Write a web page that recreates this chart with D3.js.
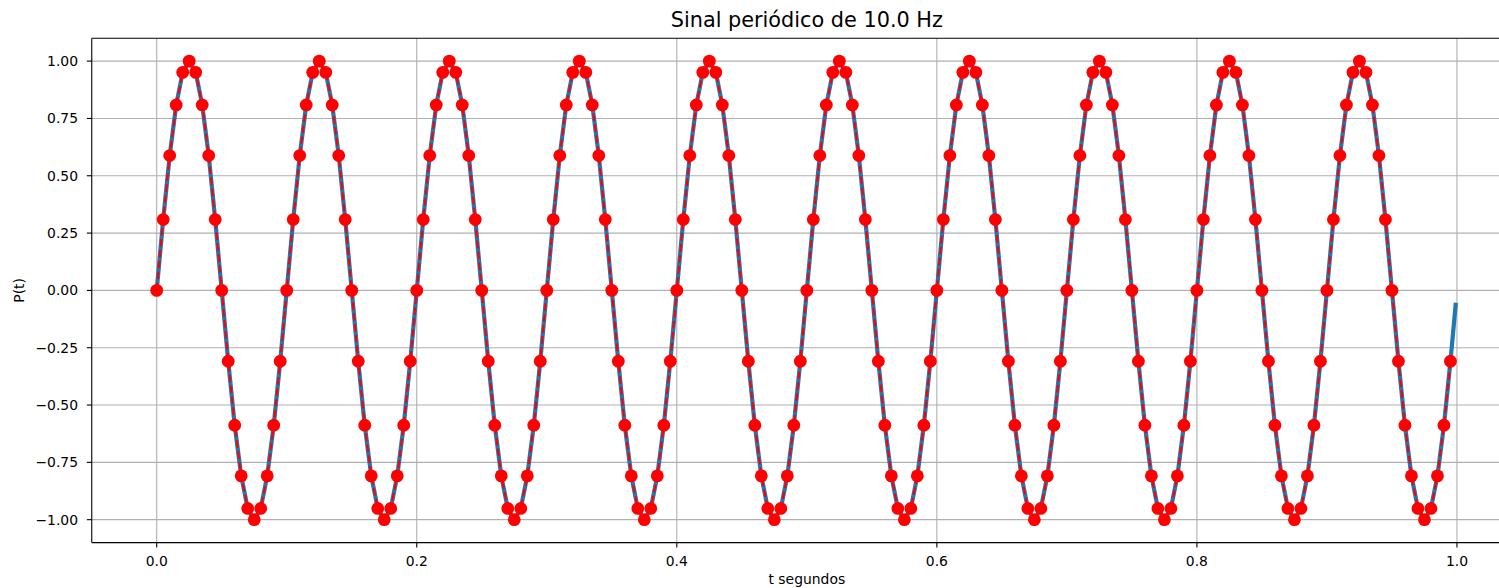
<!DOCTYPE html>
<html>
<head>
<meta charset="utf-8">
<script src="https://cdn.jsdelivr.net/npm/d3@7"></script>
<style>
  html, body { margin: 0; padding: 0; background: #fff; }
  svg { display: block; font-family: "DejaVu Sans", sans-serif; }
</style>
</head>
<body>
<svg id="chart" width="1499" height="588"></svg>
<script>
// ---- data ----
const titleText = "Sinal periódico de 10.0 Hz";
const xLabelText = "t segundos";
const yLabelText = "P(t)";
const sampleStep = 0.005;           // spacing of the red samples (s)
const sampleValues = [
  0, 0.309, 0.588, 0.809, 0.951, 1, 0.951, 0.809, 0.588, 0.309, 0, -0.309, -0.588, -0.809, -0.951, -1, -0.951, -0.809, -0.588, -0.309,
  0, 0.309, 0.588, 0.809, 0.951, 1, 0.951, 0.809, 0.588, 0.309, 0, -0.309, -0.588, -0.809, -0.951, -1, -0.951, -0.809, -0.588, -0.309,
  0, 0.309, 0.588, 0.809, 0.951, 1, 0.951, 0.809, 0.588, 0.309, 0, -0.309, -0.588, -0.809, -0.951, -1, -0.951, -0.809, -0.588, -0.309,
  0, 0.309, 0.588, 0.809, 0.951, 1, 0.951, 0.809, 0.588, 0.309, 0, -0.309, -0.588, -0.809, -0.951, -1, -0.951, -0.809, -0.588, -0.309,
  0, 0.309, 0.588, 0.809, 0.951, 1, 0.951, 0.809, 0.588, 0.309, 0, -0.309, -0.588, -0.809, -0.951, -1, -0.951, -0.809, -0.588, -0.309,
  0, 0.309, 0.588, 0.809, 0.951, 1, 0.951, 0.809, 0.588, 0.309, 0, -0.309, -0.588, -0.809, -0.951, -1, -0.951, -0.809, -0.588, -0.309,
  0, 0.309, 0.588, 0.809, 0.951, 1, 0.951, 0.809, 0.588, 0.309, 0, -0.309, -0.588, -0.809, -0.951, -1, -0.951, -0.809, -0.588, -0.309,
  0, 0.309, 0.588, 0.809, 0.951, 1, 0.951, 0.809, 0.588, 0.309, 0, -0.309, -0.588, -0.809, -0.951, -1, -0.951, -0.809, -0.588, -0.309,
  0, 0.309, 0.588, 0.809, 0.951, 1, 0.951, 0.809, 0.588, 0.309, 0, -0.309, -0.588, -0.809, -0.951, -1, -0.951, -0.809, -0.588, -0.309,
  0, 0.309, 0.588, 0.809, 0.951, 1, 0.951, 0.809, 0.588, 0.309, 0, -0.309, -0.588, -0.809, -0.951, -1, -0.951, -0.809, -0.588, -0.309
];
const lineEndT = [0.999];           // blue continuous line runs a bit past the last sample
const lineEndV = [-0.063];
const xTickValues = [0.0, 0.2, 0.4, 0.6, 0.8, 1.0];
const xTickLabels = ["0.0", "0.2", "0.4", "0.6", "0.8", "1.0"];
const yTickValues = [-1.0, -0.75, -0.5, -0.25, 0.0, 0.25, 0.5, 0.75, 1.0];
const yTickLabels = ["\u22121.00", "\u22120.75", "\u22120.50", "\u22120.25", "0.00", "0.25", "0.50", "0.75", "1.00"];
const xDomain = [-0.04995, 1.04895];
const yDomain = [-1.1, 1.1];

// ---- build ----
const samples = sampleValues.map((v, i) => ({ t: i * sampleStep, v }));
const linePts = samples.concat(lineEndT.map((t, i) => ({ t, v: lineEndV[i] })));

const svg = d3.select("#chart");
const pLeft = 91.75, pRight = 1520.6, pTop = 38.2, pBottom = 542.6;
const x = d3.scaleLinear().domain(xDomain).range([pLeft, pRight]);
const y = d3.scaleLinear().domain(yDomain).range([pBottom, pTop]);

const FS = 13.9;
const gridColor = "#b0b0b0";

// grid
const grid = svg.append("g");
grid.selectAll("line.gx").data(xTickValues).enter().append("line")
  .attr("x1", d => x(d)).attr("x2", d => x(d))
  .attr("y1", pTop).attr("y2", pBottom)
  .attr("stroke", gridColor).attr("stroke-width", 1.1);
grid.selectAll("line.gy").data(yTickValues).enter().append("line")
  .attr("x1", pLeft).attr("x2", pRight)
  .attr("y1", d => y(d)).attr("y2", d => y(d))
  .attr("stroke", gridColor).attr("stroke-width", 1.1);

// clip
svg.append("clipPath").attr("id", "clip").append("rect")
  .attr("x", pLeft).attr("y", pTop).attr("width", pRight - pLeft).attr("height", pBottom - pTop);

const plot = svg.append("g").attr("clip-path", "url(#clip)");
const lineGen = d3.line().x(d => x(d.t)).y(d => y(d.v));

plot.append("path").datum(linePts)
  .attr("d", lineGen)
  .attr("fill", "none")
  .attr("stroke", "#1f77b4")
  .attr("stroke-width", 4.2)
  .attr("stroke-linejoin", "round")
  .attr("stroke-linecap", "square");

plot.append("path").datum(samples)
  .attr("d", lineGen)
  .attr("fill", "none")
  .attr("stroke", "#ff0000")
  .attr("stroke-width", 2.1)
  .attr("stroke-dasharray", "7.7,3.3");

plot.selectAll("circle").data(samples).enter().append("circle")
  .attr("cx", d => x(d.t)).attr("cy", d => y(d.v))
  .attr("r", 6.4)
  .attr("fill", "#ff0000");

// spines
const spines = svg.append("g").attr("stroke", "#000").attr("stroke-width", 1.1).attr("fill", "none");
spines.append("line").attr("x1", pLeft).attr("x2", pLeft).attr("y1", pTop).attr("y2", pBottom);
spines.append("line").attr("x1", pLeft).attr("x2", pRight).attr("y1", pBottom).attr("y2", pBottom);
spines.append("line").attr("x1", pLeft).attr("x2", pRight).attr("y1", pTop).attr("y2", pTop);
spines.append("line").attr("x1", pRight).attr("x2", pRight).attr("y1", pTop).attr("y2", pBottom);

// x axis ticks
const xa = svg.append("g");
xa.selectAll("line").data(xTickValues).enter().append("line")
  .attr("x1", d => x(d)).attr("x2", d => x(d))
  .attr("y1", pBottom).attr("y2", pBottom + 4.9)
  .attr("stroke", "#000").attr("stroke-width", 1.1);
xa.selectAll("text").data(xTickValues).enter().append("text")
  .attr("x", d => x(d)).attr("y", 566)
  .attr("text-anchor", "middle")
  .attr("font-size", FS).attr("fill", "#000")
  .text((d, i) => xTickLabels[i]);

// y axis ticks
const ya = svg.append("g");
ya.selectAll("line").data(yTickValues).enter().append("line")
  .attr("x1", pLeft - 4.9).attr("x2", pLeft)
  .attr("y1", d => y(d)).attr("y2", d => y(d))
  .attr("stroke", "#000").attr("stroke-width", 1.1);
ya.selectAll("text").data(yTickValues).enter().append("text")
  .attr("x", 78).attr("y", d => y(d) + 5.05)
  .attr("text-anchor", "end")
  .attr("font-size", FS).attr("fill", "#000")
  .text((d, i) => yTickLabels[i]);

// labels
svg.append("text")
  .attr("x", x(0.5)).attr("y", 584)
  .attr("text-anchor", "middle").attr("font-size", FS).attr("fill", "#000")
  .text(xLabelText);

svg.append("text")
  .attr("transform", `translate(24, ${y(0)}) rotate(-90)`)
  .attr("text-anchor", "middle").attr("font-size", FS).attr("fill", "#000")
  .text(yLabelText);

svg.append("text")
  .attr("x", x(0.5)).attr("y", 27)
  .attr("text-anchor", "middle").attr("font-size", 20.8).attr("fill", "#000")
  .text(titleText);
</script>
</body>
</html>
